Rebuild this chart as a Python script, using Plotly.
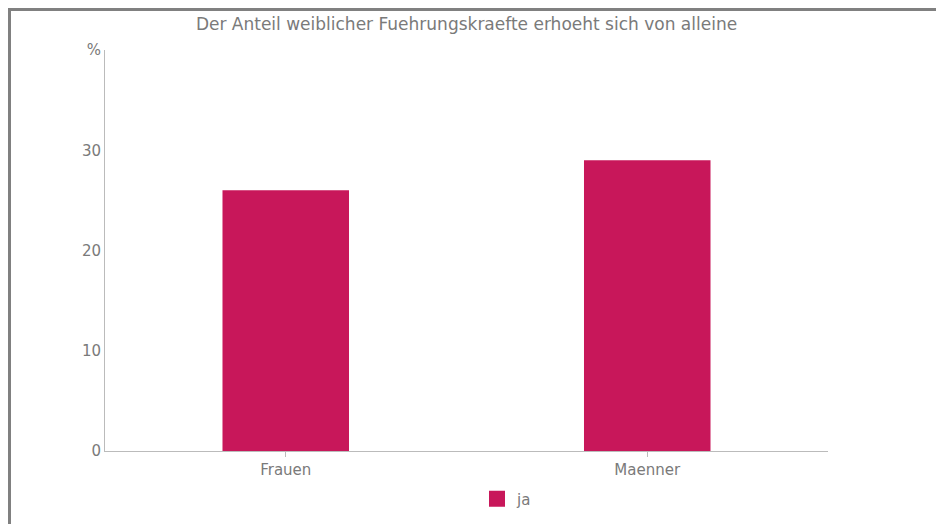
import plotly.graph_objects as go

categories = ["Frauen", "Maenner"]
values_ja = [26, 29]
series_name = "ja"
title_text = "Der Anteil weiblicher Fuehrungskraefte erhoeht sich von alleine"
y_tickvals = [0, 10, 20, 30, 40]
y_ticktext = ["0", "10", "20", "30", "%"]

BAR_COLOR = "#C8175A"
TEXT_COLOR = "#7A7A7A"
AXIS_COLOR = "#BBBBBB"
FONT = "DejaVu Sans, Liberation Sans, sans-serif"

fig = go.Figure()
fig.add_trace(go.Bar(x=categories, y=values_ja, name=series_name,
                     marker=dict(color=BAR_COLOR, line=dict(width=0)),
                     width=0.35, showlegend=False))
fig.add_trace(go.Scatter(x=[None], y=[None], mode="markers", name=series_name,
                         marker=dict(symbol="square", size=16, color=BAR_COLOR),
                         showlegend=True))

# page is offset by the 8px body margin
OFF = 8
W, H = 944, 524
L, R, T, B = 105 - OFF, 944 - 828 + OFF, 50 - OFF, 524 - 451 + OFF
pw, ph = W - L - R, H - T - B
px = lambda x: (x - OFF - L) / pw          # page pixel -> paper x
py = lambda y: (H - B - (y - OFF)) / ph    # page pixel -> paper y

fig.update_layout(
    width=W, height=H,
    margin=dict(l=L, r=R, t=T, b=B, pad=0),
    paper_bgcolor="white", plot_bgcolor="white",
    font=dict(family=FONT, size=15, color=TEXT_COLOR),
    title=dict(text=title_text, x=0.5, xref="paper", xanchor="center",
               y=1 - (24 - OFF) / H, yanchor="middle",
               font=dict(size=17, color=TEXT_COLOR, family=FONT)),
    xaxis=dict(showline=True, linecolor=AXIS_COLOR, linewidth=1, showgrid=False,
               ticks="outside", ticklen=5, tickcolor=AXIS_COLOR,
               tickfont=dict(size=15, color=TEXT_COLOR), zeroline=False,
               fixedrange=True),
    yaxis=dict(range=[0, 40], tickvals=y_tickvals, ticktext=y_ticktext,
               showline=True, linecolor=AXIS_COLOR, linewidth=1, showgrid=False,
               ticks="", tickfont=dict(size=15, color=TEXT_COLOR), zeroline=False,
               fixedrange=True),
    legend=dict(orientation="h", x=px(507), xanchor="center", y=py(499), yanchor="middle",
                font=dict(size=15, color=TEXT_COLOR), itemsizing="trace"),
    shapes=[dict(type="rect", xref="paper", yref="paper",
                 x0=px(9.5), x1=px(1100), y0=py(9.5), y1=py(700),
                 line=dict(color="#808080", width=3), fillcolor="rgba(0,0,0,0)",
                 layer="above")],
)

fig.write_html("out.html")
